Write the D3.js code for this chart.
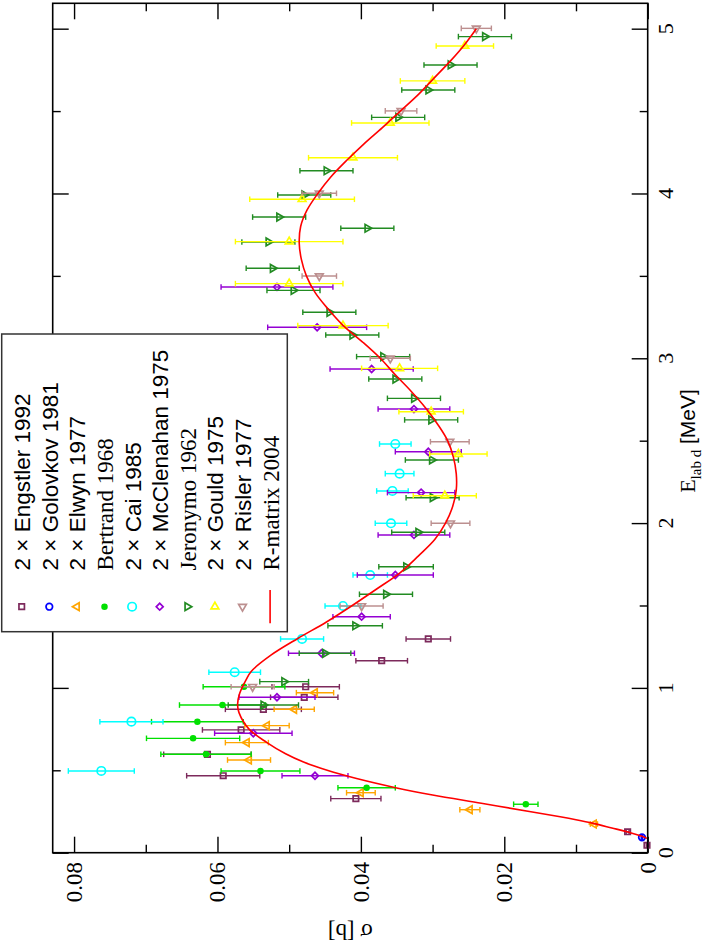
<!DOCTYPE html>
<html><head><meta charset="utf-8">
<script src="https://cdn.jsdelivr.net/npm/d3@7"></script>
<style>body{margin:0;background:#fff;} svg{display:block;}</style>
</head><body><svg id="c" width="710" height="942"></svg>
<script>
// ---------- data: [E_lab d (MeV), sigma (b), error (b)] ----------
const engstler = [[1.297,0.0306,0.0031],[1.165,0.0371,0.0036],[1.007,0.0477,0.0047],[0.943,0.0479,0.0047],[0.870,0.0536,0.0053],[0.745,0.0567,0.0054],[0.597,0.0614,0.0061],[0.467,0.0592,0.0051],[0.328,0.0407,0.0035],[0.127,0.0028,0.0002],[0.045,0.0001,0.0001]];
const golovkov = [[0.093,0.0008,0.0001]];
const elwyn = [[0.971,0.0464,0.0026],[0.870,0.0493,0.0028],[0.771,0.0531,0.0031],[0.668,0.0559,0.0030],[0.5625,0.0556,0.0030],[0.364,0.0400,0.0020],[0.261,0.0248,0.0014],[0.174,0.0075,0.0005]];
const bertrand = [[1.007,0.0563,0.0057],[0.896,0.0593,0.0060],[0.795,0.0628,0.0064],[0.694,0.0634,0.0065],[0.597,0.0616,0.0063],[0.496,0.0540,0.0055],[0.394,0.0392,0.0040],[0.294,0.0170,0.0017]];
const cai = [[2.480,0.0352,0.0022],[2.300,0.0346,0.0020],[2.195,0.0356,0.0022],[1.999,0.0358,0.0022],[1.685,0.0387,0.0024],[1.497,0.0425,0.0025],[1.297,0.0482,0.0030],[1.095,0.0576,0.0036],[0.795,0.0720,0.0044],[0.496,0.0762,0.0046]];
const mcclenahan = [[3.433,0.0517,0.0078],[3.188,0.0461,0.0069],[2.935,0.0385,0.0058],[2.692,0.0326,0.0050],[2.433,0.0306,0.0046],[2.185,0.0316,0.0047],[1.928,0.0326,0.0050],[1.685,0.0352,0.0053],[1.432,0.0399,0.0040],[1.210,0.0455,0.0046],[0.943,0.0517,0.0053],[0.725,0.0550,0.0054],[0.467,0.0464,0.0046]];
const jeronymo = [[4.952,0.0227,0.0037],[4.780,0.0275,0.0037],[4.628,0.0306,0.0037],[4.462,0.0348,0.0037],[4.138,0.0448,0.0037],[3.991,0.0479,0.0037],[3.857,0.0514,0.0037],[3.789,0.0391,0.0037],[3.706,0.0529,0.0037],[3.546,0.0523,0.0037],[3.412,0.0494,0.0037],[3.279,0.0444,0.0037],[3.141,0.0412,0.0037],[3.010,0.0369,0.0037],[2.874,0.0352,0.0037],[2.757,0.0326,0.0037],[2.626,0.0302,0.0037],[2.383,0.0301,0.0037],[2.154,0.0300,0.0037],[1.944,0.0320,0.0037],[1.735,0.0337,0.0038],[1.568,0.0365,0.0037],[1.377,0.0408,0.0038],[1.210,0.0450,0.0036],[1.038,0.0507,0.0034],[0.896,0.0536,0.0049]];
const gould = [[4.895,0.0255,0.0040],[4.683,0.0300,0.0045],[4.428,0.0359,0.0054],[4.217,0.0411,0.0062],[3.965,0.0482,0.0073],[3.708,0.0500,0.0075],[3.453,0.0500,0.0075],[3.198,0.0425,0.0063],[2.939,0.0346,0.0053],[2.676,0.0302,0.0045],[2.419,0.0264,0.0040],[2.166,0.0283,0.0044]];
const risler = [[5.002,0.0239,0.0021],[4.501,0.0344,0.0022],[4.001,0.0458,0.0024],[3.499,0.0458,0.0024],[3.000,0.0359,0.0028],[2.494,0.0276,0.0027],[1.999,0.0275,0.0027],[1.497,0.0399,0.0030],[1.007,0.0551,0.0030]];
const rmatE = [0.087,0.1,0.127,0.15,0.178,0.2,0.218,0.25,0.3,0.35,0.393,0.45,0.5,0.55,0.6,0.668,0.75,0.85,0.9,0.967,1.05,1.1,1.2,1.3,1.4,1.5,1.6,1.7,1.8,1.9,2.0,2.1,2.2,2.3,2.4,2.5,2.6,2.7,2.8,2.9,3.0,3.1,3.2,3.3,3.4,3.5,3.6,3.7,3.8,3.9,4.0,4.1,4.2,4.3,4.4,4.5,4.6,4.7,4.8,4.9,5.0];
const rmatS = [0.0001,0.0008,0.0029,0.0050,0.0076,0.0100,0.0122,0.0165,0.0232,0.0300,0.0350,0.0406,0.0447,0.0480,0.0505,0.0531,0.0556,0.0570,0.0572,0.0569,0.0560,0.0553,0.0525,0.0488,0.0448,0.0412,0.0378,0.0345,0.0320,0.0297,0.0282,0.0272,0.0267,0.0267,0.0271,0.0279,0.0293,0.0310,0.0330,0.0352,0.0373,0.0398,0.0425,0.0446,0.0464,0.0476,0.0483,0.0486,0.0484,0.0475,0.0460,0.0442,0.0420,0.0396,0.0370,0.0345,0.0320,0.0298,0.0276,0.0256,0.0239];
const eMajor = [0,1,2,3,4,5];
const eMinor = [0.5,1.5,2.5,3.5,4.5];
const sMajor = [0,0.02,0.04,0.06,0.08];
const sMinor = [0.01,0.03,0.05,0.07];
const sLabels = ['0','0.02','0.04','0.06','0.08'];
const legendLabels = ['2 \u00d7 Engstler 1992','2 \u00d7 Golovkov 1981','2 \u00d7 Elwyn 1977','Bertrand 1968','2 \u00d7 Cai 1985','2 \u00d7 McClenahan 1975','Jeronymo 1962','2 \u00d7 Gould 1975','2 \u00d7 Risler 1977','R-matrix 2004'];
const legendSerif = [false,false,false,true,false,false,true,false,false,true];

// ---------- styles ----------
const series = [
  {data:engstler, color:'#7d2a5c', sym:'square', size:30, rot:0, fill:'none'},
  {data:golovkov, color:'#0000ff', sym:'circle', size:34, rot:0, fill:'none'},
  {data:elwyn, color:'#ffa500', sym:'triangle', size:26, rot:-90, fill:'none'},
  {data:bertrand, color:'#00e000', sym:'circle', size:18, rot:0, fill:'#00e000'},
  {data:cai, color:'#00ffff', sym:'circle', size:56, rot:0, fill:'none'},
  {data:mcclenahan, color:'#9400d3', sym:'square', size:24, rot:45, fill:'none'},
  {data:jeronymo, color:'#228b22', sym:'triangle', size:26, rot:90, fill:'none'},
  {data:gould, color:'#ffff00', sym:'triangle', size:26, rot:0, fill:'none'},
  {data:risler, color:'#bc8f8f', sym:'triangle', size:26, rot:180, fill:'none'}
];
const symType = {square:d3.symbolSquare, circle:d3.symbolCircle, triangle:d3.symbolTriangle};

const L = 52.7, R = 647.7, T = 3.3, B = 852.7;
const yE = d3.scaleLinear().domain([0, 5.154]).range([B, T]);
const xS = d3.scaleLinear().domain([0, 0.08298]).range([R, L]);
const svg = d3.select('#c');
const SERIF = "'Liberation Serif','Times New Roman',serif";
const SANS = "'Liberation Sans',Arial,sans-serif";

// ---------- ticks (inward, mirrored) ----------
function ticks(axisFn, scale, vals, len, tr) {
  const g = svg.append('g').attr('transform', tr)
    .call(axisFn(scale).tickValues(vals).tickSizeInner(-len).tickSizeOuter(0).tickFormat(''));
  g.select('.domain').remove();
  g.selectAll('line').attr('stroke', '#000').attr('stroke-width', 1.4);
}
ticks(d3.axisRight, yE, eMajor, 16, `translate(${R},0)`);
ticks(d3.axisRight, yE, eMinor, 8, `translate(${R},0)`);
ticks(d3.axisLeft, yE, eMajor, 16, `translate(${L},0)`);
ticks(d3.axisLeft, yE, eMinor, 8, `translate(${L},0)`);
ticks(d3.axisBottom, xS, sMajor, 16, `translate(0,${B})`);
ticks(d3.axisBottom, xS, sMinor, 8, `translate(0,${B})`);
ticks(d3.axisTop, xS, sMajor, 16, `translate(0,${T})`);
ticks(d3.axisTop, xS, sMinor, 8, `translate(0,${T})`);

// ---------- data ----------
const plot = svg.append('g');
series.forEach(s => {
  const g = plot.append('g');
  s.data.forEach(d => {
    const y = yE(d[0]), x1 = xS(d[1] - d[2]), x2 = xS(d[1] + d[2]);
    g.append('line').attr('x1', x1).attr('x2', x2).attr('y1', y).attr('y2', y)
      .attr('stroke', s.color).attr('stroke-width', 1.4);
    [x1, x2].forEach(xx => g.append('line').attr('x1', xx).attr('x2', xx)
      .attr('y1', y - 2.8).attr('y2', y + 2.8).attr('stroke', s.color).attr('stroke-width', 1.4));
  });
  s.data.forEach(d => {
    g.append('path').attr('d', d3.symbol().type(symType[s.sym]).size(s.size)())
      .attr('transform', `translate(${xS(d[1])},${yE(d[0])}) rotate(${s.rot})`)
      .attr('fill', s.fill).attr('stroke', s.color).attr('stroke-width', 1.7);
  });
});
const curve = rmatE.map((e, i) => [e, rmatS[i]]);
plot.append('path').datum(curve)
  .attr('d', d3.line().x(d => xS(d[1])).y(d => yE(d[0])).curve(d3.curveCatmullRom))
  .attr('fill', 'none').attr('stroke', '#ff0000').attr('stroke-width', 1.6);

// frame
svg.append('rect').attr('x', L).attr('y', T).attr('width', R - L).attr('height', B - T)
  .attr('fill', 'none').attr('stroke', '#000').attr('stroke-width', 1.6);

// ---------- tick labels ----------
eMajor.forEach(v => {
  const x = 673, y = yE(v);
  svg.append('text').attr('x', x).attr('y', y).attr('transform', `rotate(-90,${x},${y})`)
    .attr('text-anchor', 'middle').attr('font-family', SERIF).attr('font-size', 22).text(v);
});
sMajor.forEach((v, i) => {
  const x = xS(v) + 8, y = 862;
  svg.append('text').attr('x', x).attr('y', y).attr('transform', `rotate(-90,${x},${y})`)
    .attr('text-anchor', 'end').attr('font-family', SERIF).attr('font-size', 23).text(sLabels[i]);
});

// ---------- axis titles ----------
{
  const x = (L + R) / 2, y = 923.5;
  svg.append('text').attr('x', x).attr('y', y).attr('transform', `rotate(180,${x},${y})`)
    .attr('text-anchor', 'middle').attr('font-family', SERIF).attr('font-size', 23).text('\u03c3 [b]');
}
{
  const x = 695, y = 441;
  const t = svg.append('text').attr('x', x).attr('y', y).attr('transform', `rotate(-90,${x},${y})`)
    .attr('text-anchor', 'middle');
  t.append('tspan').attr('font-family', SERIF).attr('font-size', 22).text('E');
  t.append('tspan').attr('font-family', SERIF).attr('font-size', 15).attr('dy', 6).text('lab d');
  t.append('tspan').attr('font-family', SANS).attr('font-size', 21).attr('dy', -6).text(' [MeV]');
}

// ---------- legend ----------
const lg = svg.append('g');
lg.append('rect').attr('x', 1.7).attr('y', 334).attr('width', 285.6).attr('height', 297.7)
  .attr('fill', '#fff').attr('stroke', '#333').attr('stroke-width', 1.5);
legendLabels.forEach((lab, i) => {
  const cx = 21.7 + 27.6 * i, cy = 606.7;
  if (i < series.length) {
    const s = series[i];
    lg.append('path').attr('d', d3.symbol().type(symType[s.sym]).size(s.size)())
      .attr('transform', `translate(${cx},${cy}) rotate(${s.rot})`)
      .attr('fill', s.fill).attr('stroke', s.color).attr('stroke-width', 1.7);
  } else {
    lg.append('line').attr('x1', cx).attr('x2', cx).attr('y1', 590).attr('y2', 623.3)
      .attr('stroke', '#ff0000').attr('stroke-width', 1.6);
  }
  const tx = cx + 8.5, ty = 570.5;
  lg.append('text').attr('x', tx).attr('y', ty).attr('transform', `rotate(-90,${tx},${ty})`)
    .attr('font-family', legendSerif[i] ? SERIF : SANS).attr('font-size', legendSerif[i] ? 23 : 22.5)
    .attr('fill', '#000').text(lab);
});
</script></body></html>
